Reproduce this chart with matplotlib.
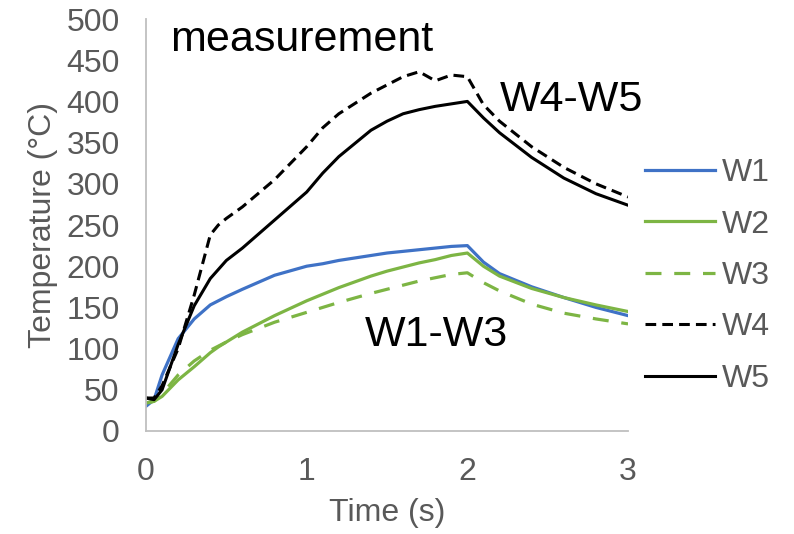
import numpy as np
import matplotlib
matplotlib.use("Agg")
import matplotlib.pyplot as plt

plt.rcParams['font.family'] = ['Liberation Sans', 'DejaVu Sans']

# time points (s)
t = [0, 0.05, 0.1, 0.2, 0.3, 0.4, 0.45, 0.5, 0.6, 0.8, 1.0, 1.1, 1.2, 1.4, 1.5, 1.6, 1.7, 1.8, 1.9, 2.0,
     2.1, 2.2, 2.4, 2.6, 2.8, 3.0]

# temperatures (°C)
w1 = [30, 38, 68, 112, 136, 153, 158, 163, 172, 189, 200, 203, 207, 213, 216, 218, 220, 222, 224, 225,
      205, 191, 175, 162, 150, 140]
w2 = [34, 36, 42, 62, 78, 95, 102, 108, 120, 140, 158, 166, 174, 188, 194, 199, 204, 208, 213, 216,
      200, 188, 173, 162, 153, 145]
w3 = [34, 36, 45, 68, 85, 98, 103, 108, 117, 132, 144, 150, 156, 167, 172, 177, 182, 186, 190, 192,
      180, 170, 154, 143, 136, 130]
w4 = [40, 40, 55, 100, 165, 238, 250, 258, 272, 305, 345, 368, 385, 410, 420, 430, 436, 425, 432, 430,
      396, 376, 345, 320, 300, 284]
w5 = [40, 38, 50, 105, 152, 185, 196, 207, 222, 256, 290, 313, 333, 365, 376, 385, 390, 394, 397, 400,
      380, 362, 332, 307, 288, 274]

names = ['W1', 'W2', 'W3', 'W4', 'W5']
gray = '#595959'

fig = plt.figure(figsize=(7.94, 5.34), dpi=100)
ax = fig.add_axes([0.1839, 0.1929, 0.791 - 0.1839, 0.9644 - 0.1929])

ax.plot(t, w1, color='#3f72c6', lw=2.3, label=names[0])
ax.plot(t, w2, color='#7db544', lw=2.3, label=names[1])
ax.plot(t, w3, color='#7db544', lw=2.3, ls=(0, (5, 4)), label=names[2])
ax.plot(t, w4, color='black', lw=2.2, ls=(0, (3.5, 2)), label=names[3])
ax.plot(t, w5, color='black', lw=2.2, label=names[4])

ax.set_xlim(0, 3)
ax.set_ylim(0, 500)
ax.set_xticks([0, 1, 2, 3])
ax.set_yticks(np.arange(0, 501, 50))
ax.tick_params(length=0, labelsize=23, colors=gray, pad=19)
for s in ['top', 'right']:
    ax.spines[s].set_visible(False)
for s in ['left', 'bottom']:
    ax.spines[s].set_color('#bfbfbf')
    ax.spines[s].set_linewidth(1.3)

ax.set_xlabel('Time (s)', fontsize=23, color=gray, labelpad=8)
ax.set_ylabel('Temperature (°C)', fontsize=23, color=gray, labelpad=6)

ax.text(0.15, 474, 'measurement', fontsize=31, va='center', ha='left')
ax.text(2.2, 402, 'W4-W5', fontsize=31, va='center', ha='left')
ax.text(1.36, 116, 'W1-W3', fontsize=31, va='center', ha='left')

leg = fig.legend(loc='center left', bbox_to_anchor=(645 / 794, 0.483), frameon=False,
                 fontsize=23, handlelength=2.2, handletextpad=0.2, labelspacing=0.67,
                 borderpad=0, borderaxespad=0)
for txt in leg.get_texts():
    txt.set_color(gray)

fig.savefig('out.png', dpi=100)
